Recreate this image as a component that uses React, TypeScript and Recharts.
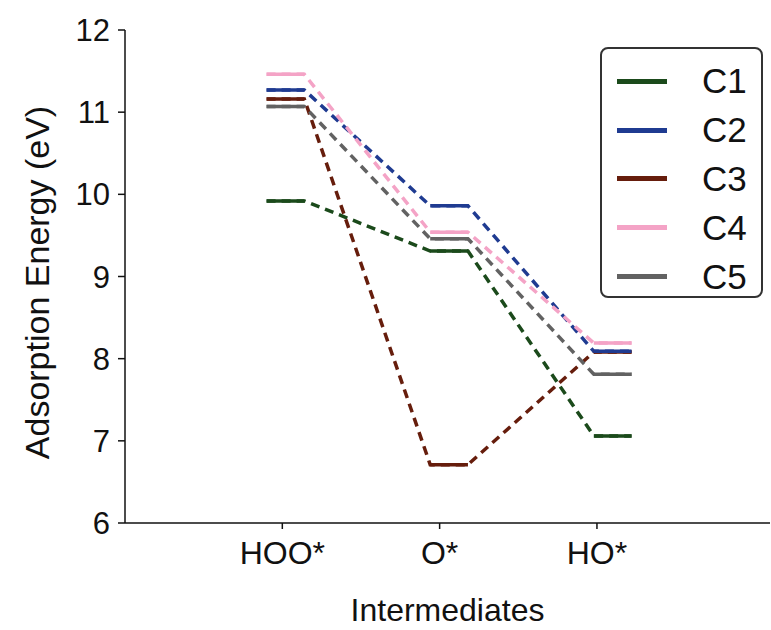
import React from "react";
import { LineChart, Line, XAxis, YAxis, Legend, Label } from "recharts";

const intermediates = ["HOO*", "O*", "HO*"];
const tickPositions = [1, 2, 3];
// where each energy level starts on the x scale, and how wide it is
const levelStart = [0.9, 1.94, 2.98];
const levelWidth = 0.24;

const seriesNames = ["C1", "C2", "C3", "C4", "C5"];
const c1 = [9.92, 9.31, 7.06];
const c2 = [11.27, 9.86, 8.09];
const c3 = [11.16, 6.71, 8.08];
const c4 = [11.46, 9.54, 8.19];
const c5 = [11.07, 9.46, 7.81];
const colors = ["#1b4a1b", "#1f3b91", "#661d0c", "#f4a3c6", "#626262"];

const values = [c1, c2, c3, c4, c5];
// draw order: C3 goes under C2 at HO*
const drawOrder = [0, 2, 1, 3, 4];

const FONT = "'Liberation Sans', Arial, sans-serif";

const pathData = (vals: number[]) =>
  vals.flatMap((v, i) => [
    { x: levelStart[i], y: v },
    { x: levelStart[i] + levelWidth, y: v },
  ]);

const levelData = (vals: number[]) =>
  vals.flatMap((v, i) => [
    { x: levelStart[i], y: v },
    { x: levelStart[i] + levelWidth, y: v },
    { x: levelStart[i] + levelWidth + 0.01, y: null },
  ]);

const LegendBox = () => (
  <div
    style={{
      width: 163,
      height: 251,
      border: "2px solid #333",
      borderRadius: 8,
      background: "#fff",
      boxSizing: "border-box",
      paddingTop: 8,
    }}
  >
    {seriesNames.map((name, i) => (
      <div
        key={name}
        style={{ display: "flex", alignItems: "center", height: 48.8 }}
      >
        <div
          style={{
            marginLeft: 15,
            width: 50,
            height: 5,
            background: colors[i],
          }}
        />
        <span
          style={{
            marginLeft: 35,
            fontFamily: FONT,
            fontSize: 35,
            color: "#111",
          }}
        >
          {name}
        </span>
      </div>
    ))}
  </div>
);

export default function App() {
  return (
    <div style={{ position: "absolute", left: 0, top: 0, background: "#fff" }}>
      <LineChart
        width={771}
        height={630}
        margin={{ top: 30, right: 1, left: 0, bottom: 0 }}
      >
        <XAxis
          dataKey="x"
          type="number"
          domain={[0, 4.1]}
          ticks={tickPositions}
          tickFormatter={(v: number) => intermediates[tickPositions.indexOf(v)]}
          height={107}
          tickSize={6}
          tickMargin={12}
          stroke="#111"
          strokeWidth={1.5}
          tick={{ fontSize: 32, fill: "#111", fontFamily: FONT }}
        >
          <Label
            value="Intermediates"
            position="insideBottom"
            offset={9}
            fontSize={32}
            fill="#111"
            fontFamily={FONT}
          />
        </XAxis>
        <YAxis
          type="number"
          domain={[6, 12]}
          ticks={[6, 7, 8, 9, 10, 11, 12]}
          width={125}
          tickSize={7}
          tickMargin={8}
          stroke="#111"
          strokeWidth={1.5}
          tick={{ fontSize: 31, fill: "#111", fontFamily: FONT }}
        >
          <Label
            value="Adsorption Energy (eV)"
            angle={-90}
            position="center"
            dx={-26}
            dy={6}
            fontSize={34}
            fill="#111"
            fontFamily={FONT}
          />
        </YAxis>
        <Legend
          layout="horizontal"
          align="center"
          verticalAlign="middle"
          wrapperStyle={{ position: "absolute", left: 600, top: 47, width: 163 }}
          content={() => <LegendBox />}
        />
        {drawOrder.map((i) => (
          <Line
            key={`d-${seriesNames[i]}`}
            data={pathData(values[i])}
            dataKey="y"
            type="linear"
            stroke={colors[i]}
            strokeWidth={3.5}
            strokeDasharray="9 6"
            dot={false}
            activeDot={false}
            legendType="none"
            isAnimationActive={false}
          />
        ))}
        {drawOrder.map((i) => (
          <Line
            key={`s-${seriesNames[i]}`}
            data={levelData(values[i])}
            dataKey="y"
            name={seriesNames[i]}
            type="linear"
            stroke={colors[i]}
            strokeWidth={3.5}
            dot={false}
            activeDot={false}
            connectNulls={false}
            isAnimationActive={false}
          />
        ))}
      </LineChart>
    </div>
  );
}
